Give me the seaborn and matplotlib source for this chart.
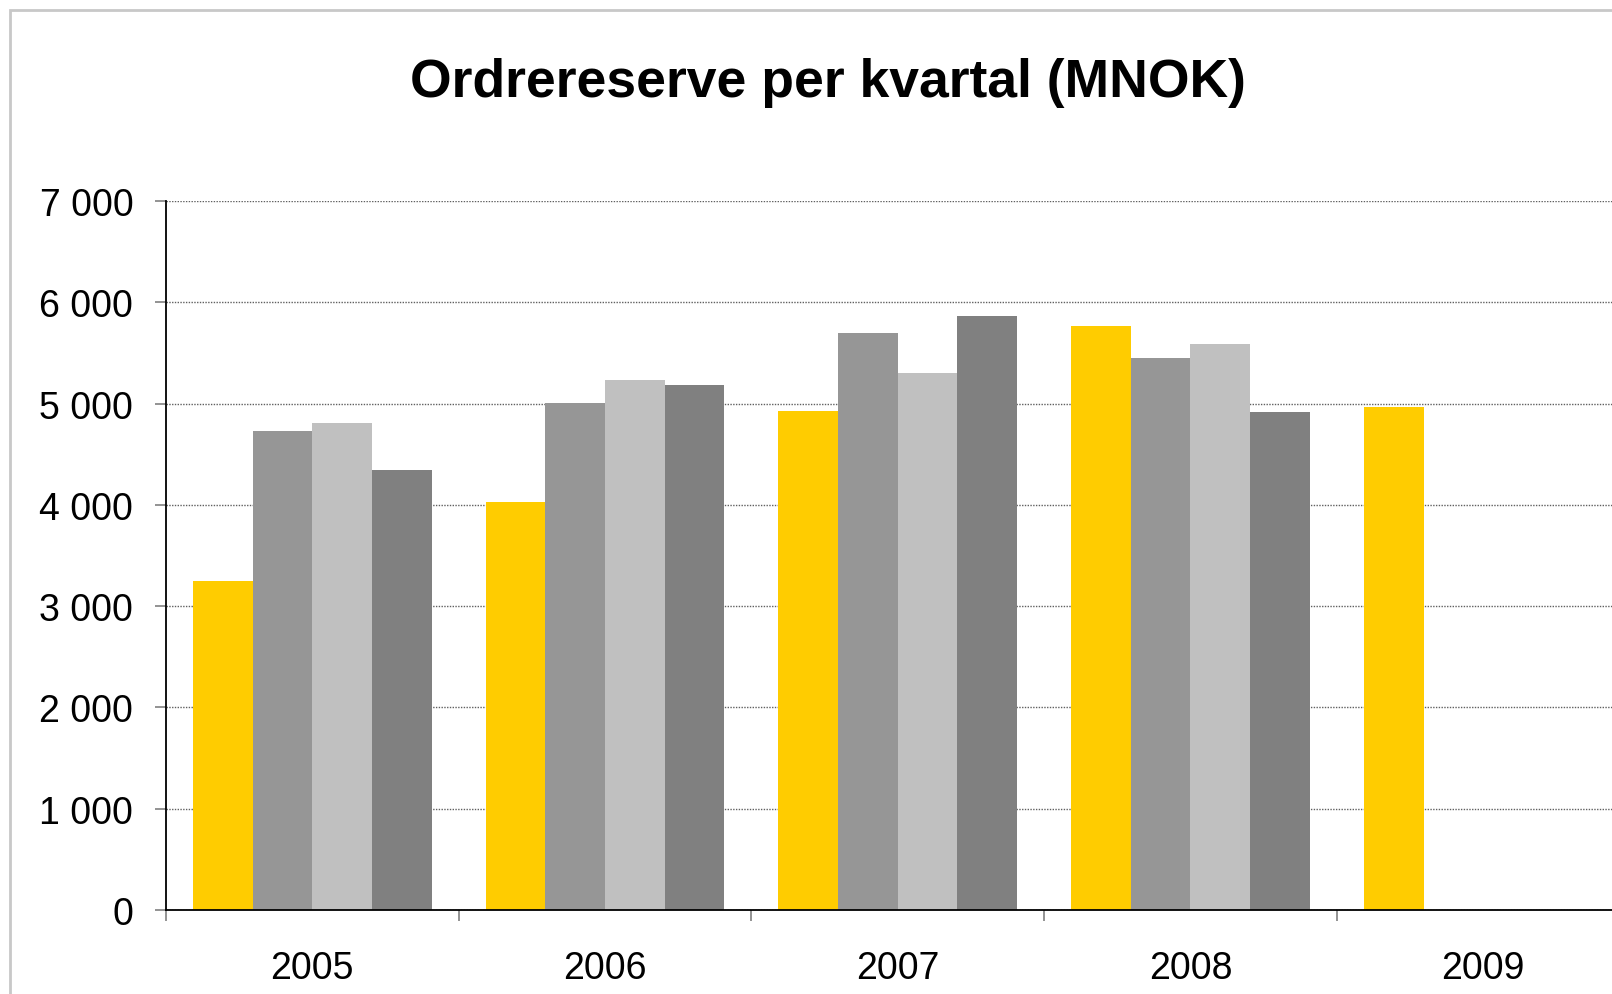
import matplotlib
matplotlib.use("Agg")
import matplotlib.pyplot as plt
import seaborn as sns
import pandas as pd
from matplotlib.patches import Rectangle
from matplotlib.ticker import FuncFormatter

years = ["2005", "2006", "2007", "2008", "2009"]
quarters = ["Q1", "Q2", "Q3", "Q4"]
q1 = [3250, 4025, 4930, 5770, 4965]
q2 = [4730, 5010, 5700, 5445, None]
q3 = [4812, 5230, 5300, 5588, None]
q4 = [4340, 5180, 5860, 4914, None]
colors = ["#FFCC00", "#969696", "#C0C0C0", "#808080"]
yticks = [0, 1000, 2000, 3000, 4000, 5000, 6000, 7000]
title = "Ordrereserve per kvartal (MNOK)"

rows = []
for qname, vals in zip(quarters, [q1, q2, q3, q4]):
    for y, v in zip(years, vals):
        if v is not None:
            rows.append({"year": y, "quarter": qname, "value": v})
df = pd.DataFrame(rows)

sns.set_style("white")
plt.rcParams["font.family"] = ["Liberation Sans", "DejaVu Sans"]
plt.rcParams["text.color"] = "black"

fig = plt.figure(figsize=(16.12, 9.95), dpi=100)
W, H = 1612, 995
ax = fig.add_axes([166 / W, 84 / H, 5 * 292.7 / W, 709 / H])

sns.barplot(data=df, x="year", y="value", hue="quarter", order=years,
            hue_order=quarters, palette=colors, saturation=1, width=0.815,
            gap=0, legend=False, ax=ax, errorbar=None, linewidth=0)

ax.set_xlim(-0.5, 4.5)
ax.set_ylim(0, 7000)
ax.set_xlabel("")
ax.set_ylabel("")

ax.set_yticks(yticks)
ax.yaxis.set_major_formatter(FuncFormatter(lambda v, p: f"{int(v):,}".replace(",", " ")))
ax.tick_params(axis="y", which="major", length=8, width=1.2, color="#808080",
               labelsize=27, pad=15.5, left=True, labelcolor="black")

ax.set_xticks([i - 0.5 for i in range(6)])
ax.set_xticklabels([""] * 6)
ax.set_xticks(list(range(5)), minor=True)
ax.set_xticklabels(years, minor=True)
ax.tick_params(axis="x", which="major", length=8, width=1.2, color="#808080",
               bottom=True, direction="out")
ax.tick_params(axis="x", which="minor", length=0, labelsize=27, pad=29,
               labelcolor="black")

ax.grid(axis="y", linestyle=(0, (1, 1)), color="#606060", linewidth=1)
ax.grid(axis="x", visible=False)
ax.set_axisbelow(True)

for s in ["top", "right"]:
    ax.spines[s].set_visible(False)
for s in ["left", "bottom"]:
    ax.spines[s].set_color("black")
    ax.spines[s].set_linewidth(1.3)

fig.text(828 / W, 1 - 97 / H, title, ha="center", va="baseline",
         fontsize=38.5, fontweight="bold", color="black")

fig.patches.append(Rectangle((10 / W, -0.05), 1.1, 1 - 11 / H + 0.05,
                             transform=fig.transFigure, fill=False,
                             edgecolor="#C8C8C8", linewidth=2, zorder=0))

fig.savefig("out.png", dpi=100)
